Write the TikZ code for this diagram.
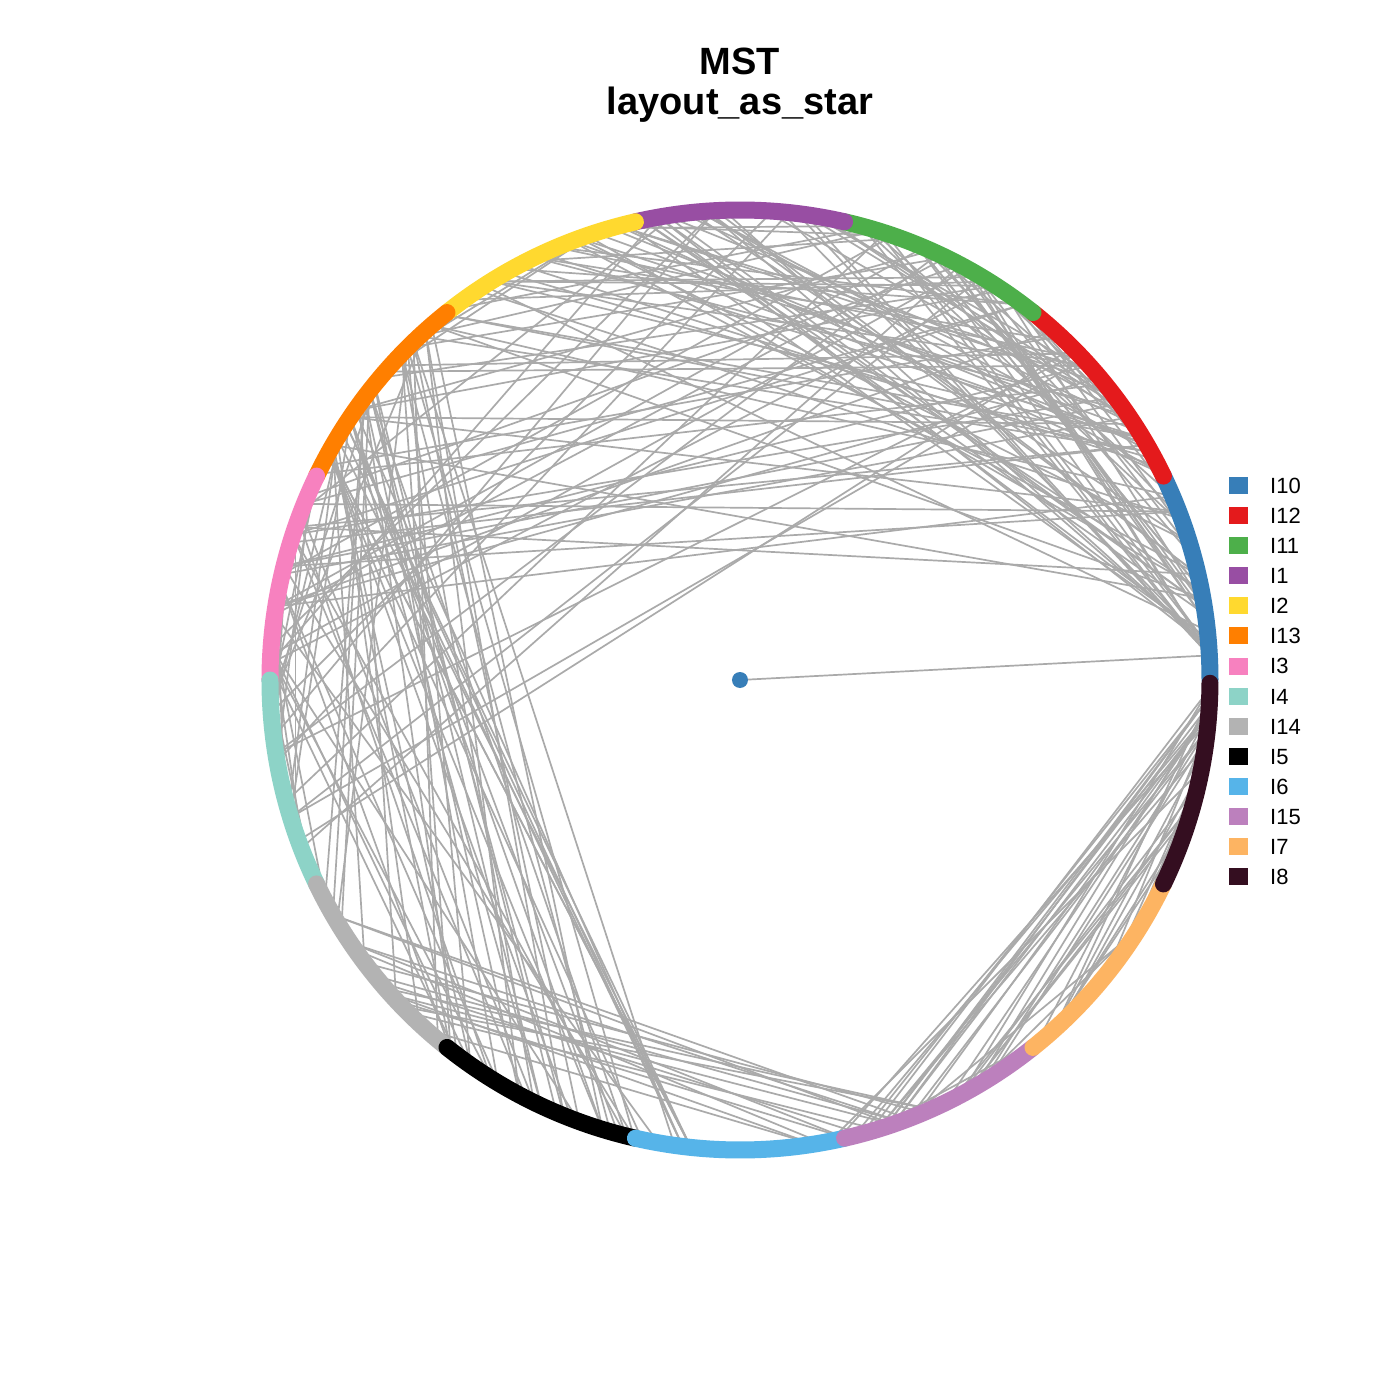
\documentclass[tikz,border=0pt]{standalone}
\usepackage{fontspec}
\setmainfont{Liberation Sans}
\definecolor{cI10}{HTML}{377EB8}
\definecolor{cI12}{HTML}{E41A1C}
\definecolor{cI11}{HTML}{4DAF4A}
\definecolor{cI1}{HTML}{984EA3}
\definecolor{cI2}{HTML}{FFD92F}
\definecolor{cI13}{HTML}{FF7F00}
\definecolor{cI3}{HTML}{F781BF}
\definecolor{cI4}{HTML}{8DD3C7}
\definecolor{cI14}{HTML}{B3B3B3}
\definecolor{cI5}{HTML}{000000}
\definecolor{cI6}{HTML}{56B4E9}
\definecolor{cI15}{HTML}{BC80BD}
\definecolor{cI7}{HTML}{FDB462}
\definecolor{cI8}{HTML}{340E20}
\definecolor{edgegray}{RGB}{170,170,170}
\begin{document}
\begin{tikzpicture}[x=1pt,y=1pt,
  edge/.style={draw=edgegray, line width=1.7pt},
  ring/.style={line width=17pt, line cap=round},
  legsq/.style={minimum width=19pt, minimum height=17pt, inner sep=0pt, draw=none},
  legtxt/.style={anchor=base west, font=\fontsize{22}{26}\selectfont, inner sep=0pt},
  ttl/.style={anchor=base, font=\bfseries\fontsize{38}{44}\selectfont, inner sep=0pt}]
\useasboundingbox (-740,-720) rectangle (660,680);
\fill[white] (-740,-720) rectangle (660,680);
% ring positions
\foreach \i in {0,...,359} \coordinate (r\i) at (\i:470);
\foreach \k in {0,...,14} \coordinate (g\k) at ({\k*360/14}:470);
\coordinate (c) at (0,0);
% edges
\pgfmathsetseed{4242}
\foreach \aa/\ab/\ba/\bb/\n in {
 2/6/60/100/10,
 4/12/55/125/10,
 8/24/60/125/12,
 26/34/78/128/14,
 34/48/80/125/10,
 26/48/128/175/16,
 5/24/130/178/8,
 52/75/100/150/14,
 52/75/155/205/12,
 80/100/150/190/6,
 4/46/52/76/12,
 131/136/232/262/10,
 140/152/232/266/22,
 155/178/228/262/12,
 182/204/130/175/10,
 206/230/132/155/8,
 207/230/278/295/15,
 356/359/283/300/10,
 341/356/279/305/12,
 340/359/308/333/10,
 284/305/310/332/6,
 160/200/196/214/6,
 104/126/130/150/4,
 186/204/40/60/3}{
  \foreach \k in {1,...,\n}{
    \pgfmathtruncatemacro\u{mod(round(\aa+rnd*(\ab-\aa))+360,360)}
    \pgfmathtruncatemacro\v{mod(round(\ba+rnd*(\bb-\ba))+360,360)}
    \draw[edge] (r\u) -- (r\v);
  }
}
\draw[edge] (c) -- (r3);
% ring groups
\foreach \k/\col in {0/cI10,1/cI12,2/cI11,3/cI1,4/cI2,5/cI13,6/cI3,7/cI4,8/cI14,9/cI5,10/cI6,11/cI15,12/cI7}{
  \draw[ring, draw=\col] (g\k) arc[start angle={\k*360/14}, end angle={(\k+1)*360/14}, radius=470];
}
\draw[ring, draw=cI8] (g13) arc[start angle={13*360/14}, end angle=359.6, radius=470];
% center vertex
\node[circle, fill=cI10, minimum size=16pt, inner sep=0pt] (center) at (c) {};
% legend
\foreach \k/\col/\t in {0/cI10/I10,1/cI12/I12,2/cI11/I11,3/cI1/I1,4/cI2/I2,5/cI13/I13,6/cI3/I3,7/cI4/I4,8/cI14/I14,9/cI5/I5,10/cI6/I6,11/cI15/I15,12/cI7/I7,13/cI8/I8}{
  \node[legsq, fill=\col] (lg\k) at (498, {194-30*\k}) {};
  \node[legtxt] (lt\k) at (530, {186-30*\k}) {\t};
}
% title
\node[ttl] (t1) at (0,605) {MST};
\node[ttl] (t2) at (0,565) {layout\_as\_star};
\end{tikzpicture}
\end{document}
